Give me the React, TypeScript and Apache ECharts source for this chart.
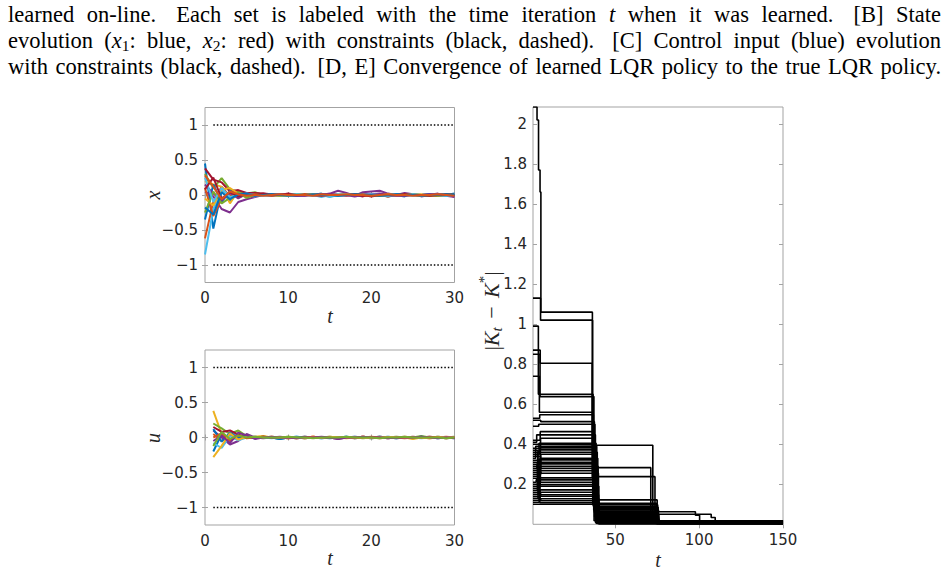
import React, { useEffect, useRef } from "react";
import * as echarts from "echarts";

// ---------- caption (justified, three lines) ----------
const captionLine1 = ["learned", "on-line.", "Each", "set", "is", "labeled", "with", "the", "time", "iteration", "{i|t}", "when", "it", "was", "learned.", "[B]", "State"];
const captionLine2 = ["evolution", "({i|x}{s|1}:", "blue,", "{i|x}{s|2}:", "red)", "with", "constraints", "(black,", "dashed).", "[C]", "Control", "input", "(blue)", "evolution"];
const captionLine3 = ["with", "constraints", "(black,", "dashed).", "[D,", "E]", "Convergence", "of", "learned", "LQR", "policy", "to", "the", "true", "LQR", "policy."];

// ---------- panel B: state trajectories, t = 0 .. 30 ----------
const xRun1 = [0.45, -0.48, 0.06, -0.08, 0.03, -0.02, 0.01, 0.0, -0.01, 0.01, 0.0, -0.01, 0.01, 0.0, 0.02, -0.01, 0.0, 0.01, -0.01, 0.02, 0.0, -0.01, 0.01, 0.0, -0.02, 0.01, 0.0, 0.01, -0.01, 0.0, 0.02];
const xRun2 = [-0.62, -0.1, 0.12, -0.02, 0.04, 0.0, -0.01, 0.01, 0.0, 0.0, 0.01, -0.01, 0.0, 0.01, 0.0, -0.01, 0.0, 0.0, 0.01, 0.0, -0.01, 0.0, 0.01, -0.01, 0.0, 0.01, 0.0, -0.01, 0.0, 0.01, 0.0];
const xRun3 = [0.2, 0.15, 0.12, -0.12, 0.06, -0.03, 0.02, 0.0, 0.01, -0.01, 0.0, 0.0, 0.01, 0.0, -0.01, 0.0, 0.01, 0.0, 0.0, -0.01, 0.0, 0.01, 0.0, -0.01, 0.0, 0.0, 0.01, 0.0, -0.01, 0.0, 0.0];
const xRun4 = [0.05, -0.02, -0.2, -0.25, -0.1, -0.06, -0.03, 0.0, -0.01, 0.0, 0.01, 0.0, -0.01, 0.01, 0.0, 0.02, 0.06, 0.03, -0.01, 0.04, 0.05, 0.06, 0.02, 0.0, 0.03, 0.01, -0.02, 0.0, 0.02, -0.01, -0.03];
const xRun5 = [0.3, 0.1, 0.24, 0.08, 0.05, 0.02, 0.04, 0.0, 0.01, 0.0, -0.01, 0.0, 0.0, 0.01, 0.0, -0.02, 0.0, 0.01, 0.0, -0.01, 0.0, 0.0, -0.02, 0.0, 0.01, 0.0, 0.0, -0.01, 0.0, 0.01, 0.0];
const xRun6 = [-0.85, -0.2, 0.05, -0.05, 0.02, 0.0, -0.02, 0.01, 0.0, 0.0, -0.01, 0.01, 0.0, 0.0, -0.03, 0.0, 0.01, 0.0, 0.0, 0.01, -0.01, 0.0, 0.0, 0.01, 0.0, -0.01, 0.0, 0.0, 0.01, 0.0, -0.01];
const xRun7 = [0.38, 0.22, 0.18, 0.05, 0.07, 0.03, 0.03, 0.02, 0.01, 0.0, 0.02, 0.0, 0.01, -0.01, 0.0, 0.01, 0.0, -0.01, 0.0, -0.02, 0.01, 0.0, -0.02, 0.0, 0.01, 0.0, -0.01, 0.0, 0.0, 0.01, 0.0];
const xRun8 = [-0.35, 0.15, -0.1, 0.06, -0.02, 0.01, 0.0, 0.0, 0.01, 0.0, 0.0, -0.01, 0.0, 0.0, 0.01, 0.0, -0.01, 0.0, 0.01, 0.0, 0.0, 0.0, -0.01, 0.01, 0.0, 0.0, 0.0, 0.01, 0.0, -0.01, 0.0];
const xRun9 = [0.1, -0.3, -0.05, 0.02, -0.03, 0.0, 0.01, 0.0, -0.01, 0.0, 0.0, 0.0, 0.01, 0.0, 0.0, -0.01, 0.0, 0.0, 0.0, 0.01, 0.0, -0.01, 0.0, 0.0, 0.01, 0.0, 0.0, 0.0, -0.01, 0.0, 0.0];
const xRun10 = [-0.05, -0.15, 0.08, 0.1, 0.02, -0.02, 0.0, 0.01, 0.0, 0.0, -0.01, 0.0, 0.0, 0.01, -0.01, 0.0, 0.0, 0.01, 0.0, 0.0, -0.01, 0.0, 0.01, 0.0, 0.0, 0.0, -0.01, 0.0, 0.01, 0.0, 0.0];
const xRun11 = [0.15, 0.02, -0.08, 0.03, -0.05, 0.02, -0.01, 0.0, 0.0, 0.01, 0.0, -0.01, -0.01, 0.0, 0.01, 0.01, 0.0, 0.0, -0.02, 0.0, 0.01, 0.02, 0.0, -0.01, -0.01, 0.0, 0.0, 0.01, 0.01, 0.0, -0.02];
const xRun12 = [-0.25, 0.05, -0.12, -0.04, 0.03, -0.04, 0.0, 0.01, 0.0, -0.01, 0.0, 0.01, 0.0, 0.0, 0.0, -0.01, 0.0, 0.0, 0.01, 0.0, 0.0, -0.01, 0.0, 0.0, 0.0, 0.01, 0.0, 0.0, -0.01, 0.0, 0.0];
const xRun13 = [0.25, -0.1, 0.1, -0.03, 0.0, 0.02, 0.0, -0.01, 0.0, 0.0, 0.0, 0.01, 0.0, -0.01, 0.0, -0.03, 0.0, 0.01, 0.0, 0.0, 0.01, 0.0, -0.01, 0.0, 0.0, 0.01, 0.0, 0.0, 0.0, -0.01, 0.0];
const xRun14 = [0.08, 0.25, -0.05, 0.04, -0.02, 0.01, 0.0, 0.02, 0.0, 0.0, 0.01, 0.0, 0.0, 0.0, -0.01, 0.0, 0.0, 0.0, 0.01, 0.0, -0.02, 0.0, 0.0, 0.0, 0.01, 0.0, 0.0, -0.01, 0.0, 0.0, 0.0];
const xRun15 = [-0.18, -0.28, 0.04, -0.06, 0.01, 0.02, -0.01, 0.0, 0.01, 0.0, -0.01, 0.0, 0.0, 0.01, 0.0, 0.0, -0.01, 0.0, 0.01, 0.0, 0.0, -0.01, 0.0, 0.01, 0.0, 0.0, -0.01, 0.0, 0.0, 0.01, 0.0];
const xRun16 = [0.28, 0.12, -0.06, 0.05, 0.01, -0.01, 0.0, -0.01, 0.0, 0.01, 0.0, 0.0, 0.0, -0.01, 0.01, 0.0, 0.0, 0.01, 0.0, 0.0, -0.01, 0.0, 0.01, 0.0, 0.0, -0.01, 0.0, 0.0, 0.01, 0.0, -0.01];

// ---------- panel C: control inputs, t = 1 .. 30 ----------
const uRun1 = [-0.2, 0.05, -0.03, 0.01, 0.0, -0.01, 0.0, 0.0, -0.02, 0.0, 0.0, 0.01, 0.0, -0.01, 0.0, 0.0, 0.01, 0.0, 0.0, -0.01, 0.0, 0.01, 0.0, 0.0, -0.01, 0.0, 0.0, 0.01, 0.0, -0.01];
const uRun2 = [0.05, -0.05, 0.04, -0.02, 0.0, 0.01, 0.0, 0.01, 0.0, 0.0, -0.01, 0.0, 0.01, 0.0, 0.0, -0.01, 0.0, 0.0, 0.01, 0.0, -0.01, 0.0, 0.0, 0.01, 0.0, 0.0, -0.01, 0.0, 0.01, 0.0];
const uRun3 = [0.38, 0.05, -0.03, 0.02, 0.0, 0.01, 0.02, 0.0, 0.0, -0.01, 0.0, 0.0, 0.01, 0.0, 0.0, 0.0, -0.01, 0.0, 0.01, 0.0, 0.0, 0.0, 0.0, 0.0, -0.02, 0.0, 0.0, 0.01, 0.0, 0.0];
const uRun4 = [0.1, 0.0, -0.1, -0.05, 0.05, 0.0, -0.01, 0.0, 0.01, 0.0, 0.0, -0.01, 0.0, 0.0, 0.0, -0.02, 0.0, 0.01, 0.0, 0.0, 0.01, 0.0, -0.01, 0.0, 0.0, 0.0, 0.01, 0.0, 0.0, -0.01];
const uRun5 = [0.2, 0.13, 0.05, 0.1, 0.02, 0.0, 0.01, 0.0, 0.0, 0.01, 0.0, -0.01, 0.0, 0.0, 0.01, 0.0, 0.0, 0.0, -0.01, 0.0, 0.01, 0.0, 0.0, 0.0, 0.0, 0.02, 0.0, 0.0, -0.01, 0.0];
const uRun6 = [-0.08, -0.15, 0.02, -0.04, 0.0, 0.01, 0.0, -0.01, 0.0, 0.0, 0.01, 0.0, 0.0, -0.01, 0.0, 0.0, 0.0, 0.01, 0.0, -0.01, 0.0, 0.0, 0.01, 0.0, 0.0, -0.01, 0.0, 0.0, 0.0, 0.01];
const uRun7 = [0.15, 0.08, 0.1, 0.04, 0.01, 0.0, 0.01, 0.0, 0.0, -0.01, 0.0, 0.01, 0.0, 0.0, 0.0, -0.01, 0.0, 0.0, 0.01, 0.0, 0.0, -0.01, 0.0, 0.0, 0.01, 0.0, 0.0, 0.0, -0.01, 0.0];
const uRun8 = [0.12, -0.06, 0.07, 0.0, 0.02, -0.01, 0.0, 0.0, -0.02, 0.0, 0.01, 0.0, 0.0, 0.0, -0.01, 0.0, 0.01, -0.01, 0.0, 0.0, 0.01, 0.0, -0.01, 0.0, 0.0, 0.01, 0.0, -0.01, 0.0, 0.0];
const uRun9 = [0.0, 0.06, -0.05, 0.03, -0.01, 0.0, 0.01, 0.0, 0.0, 0.0, -0.01, 0.0, 0.01, 0.0, 0.0, 0.0, 0.0, -0.01, 0.0, 0.01, 0.0, 0.0, 0.0, -0.01, 0.0, 0.0, 0.01, 0.0, 0.0, 0.0];
const uRun10 = [-0.28, -0.12, 0.06, -0.03, 0.01, 0.0, 0.0, 0.01, 0.0, 0.0, 0.0, -0.01, 0.0, 0.0, 0.01, 0.0, 0.0, 0.0, 0.0, -0.01, 0.0, 0.0, 0.01, 0.0, 0.0, 0.0, -0.01, 0.0, 0.0, 0.01];
const uRun11 = [-0.05, 0.03, -0.08, 0.07, 0.03, -0.02, 0.0, 0.01, 0.0, 0.0, -0.01, 0.0, 0.0, 0.01, 0.0, -0.02, 0.0, 0.0, 0.01, 0.0, 0.0, -0.01, 0.0, 0.0, 0.0, 0.01, 0.0, -0.01, 0.0, 0.0];
const uRun12 = [-0.12, 0.08, -0.02, 0.03, 0.0, 0.01, 0.0, 0.0, 0.0, 0.01, 0.0, 0.0, -0.01, 0.0, 0.0, 0.0, 0.01, 0.0, 0.0, 0.0, -0.01, 0.0, 0.0, 0.01, 0.0, 0.0, 0.0, 0.0, -0.01, 0.0];

// constraint levels (dotted), drawn over t = 1 .. 30
const constraintSpan = [1, 30];
const constraintLevels = [1, -1];

// ---------- panels D/E: |K_t - K*| for each learned policy ----------
// first policy: initial descent before its first relearn
const kLead = [[1, 2.085], [3.4, 2.02], [4.3, 1.77], [5.2, 1.66]];
// level held from t = 1 (policy 0 uses kLead instead)
const kStart = [null, 1.13, 0.87, 0.99, 0.85, 0.74, 0.53, 0.52, 0.49, 0.42, 0.41, 0.38, 0.36, 0.4, 0.33, 0.3, 0.35, 0.27, 0.25, 0.31, 0.24, 0.2, 0.28, 0.18, 0.32, 0.15, 0.26, 0.12, 0.21, 0.34, 0.11, 0.19, 0.29, 0.14, 0.23, 0.16, 0.37, 0.13, 0.17, 0.1];
const kSwitchA = [5.7, 5.5, 5.3, 4.2, 5.2, 4.8, 5.0, 5.6, 4.4, 5.3, 3.2, 5.5, 4.6, 5.1, 2.6, 5.4, 4.9, 3.8, 5.6, 5.2, 4.5, 5.3, 3.4, 5.0, 5.5, 4.2, 5.7, 5.1, 2.9, 5.4, 4.7, 5.2, 3.6, 5.5, 4.8, 5.3, 4.0, 5.6, 5.1, 5.4];
const kLevelA = [1.06, 1.02, 0.805, 0.65, 0.638, 0.56, 0.547, 0.513, 0.5, 0.463, 0.447, 0.43, 0.405, 0.398, 0.39, 0.382, 0.372, 0.36, 0.35, 0.33, 0.322, 0.31, 0.302, 0.29, 0.28, 0.268, 0.255, 0.232, 0.222, 0.21, 0.198, 0.19, 0.172, 0.16, 0.148, 0.14, 0.128, 0.118, 0.108, 0.1];
const kSwitchB = [36.4, 36.5, 36.3, 36.8, 37.3, 36.6, 37.0, 37.6, 37.9, 37.2, 38.2, 37.5, 38.6, 38.0, 39.0, 38.4, 37.7, 39.3, 38.8, 39.6, 38.1, 39.1, 37.4, 39.8, 38.5, 39.4, 40.0, 38.9, 39.7, 38.3, 39.5, 40.2, 39.2, 38.7, 40.1, 39.9, 40.3, 39.0, 40.4, 40.0];
const kLevelB = [0.395, 0.283, 0.238, 0.122, 0.105, 0.098, 0.09, 0.085, 0.078, 0.072, 0.066, 0.06, 0.055, 0.05, 0.046, 0.042, 0.038, 0.034, 0.03, 0.027, 0.024, 0.021, 0.018, 0.016, 0.014, 0.012, 0.011, 0.01, 0.009, 0.008, 0.007, 0.007, 0.006, 0.006, 0.005, 0.005, 0.004, 0.004, 0.004, 0.003];
const kSwitchC = [72.4, 71.2, 73.7, 75.0, 74.6, 75.3, 74.2, 75.6, 74.9, 75.8, 73.9, 75.2, 74.4, 76.0, 75.5, 74.7, 75.9, 74.1, 75.4, 76.1, 74.8, 75.1, null, null, null, null, null, null, null, null, null, null, null, null, null, null, null, null, null, null];
const kLevelC = [0.063, 0.05, 0.016, 0.013, 0.011, 0.012, 0.009, 0.008, 0.01, 0.007, 0.009, 0.006, 0.008, 0.005, 0.007, 0.006, 0.005, 0.004, 0.005, 0.004, 0.003, 0.004, null, null, null, null, null, null, null, null, null, null, null, null, null, null, null, null, null, null];
const kSwitchD = [97.8, 107.2, 144.5, 147.0, 141.0];
const kLevelD = [0.045, 0.034, 0.004, 0.003, 0.004];
const kSwitchE = [100.3, 109.6];
const kLevelE = [0.012, 0.014];
const kHorizon = 150;

// ---------- tick values ----------
const smallXTicks = [0, 10, 20, 30];
const smallYTicks = [-1, -0.5, 0, 0.5, 1];
const gainXTicks = [50, 100, 150];
const gainYTicks = [0.2, 0.4, 0.6, 0.8, 1, 1.2, 1.4, 1.6, 1.8, 2];

const matlabColors = ["#0072BD", "#D95319", "#EDB120", "#7E2F8E", "#77AC30", "#4DBEEE", "#A2142F"];
const AXIS_GRAY = "#a3a3a3";
const TICK_TEXT = "#262626";
const SERIF = "Liberation Serif";

function tickFmt(v: number) {
  return String(Number(Number(v).toFixed(2))).replace("-", "\u2212");
}

function gainTrace(i: number): number[][] {
  const pts: number[][] = [];
  if (i === 0) kLead.forEach((p) => pts.push([p[0], p[1]]));
  else pts.push([1, kStart[i] as number]);
  const sw: (number | null | undefined)[][] = [kSwitchA, kSwitchB, kSwitchC, kSwitchD, kSwitchE];
  const lv: (number | null | undefined)[][] = [kLevelA, kLevelB, kLevelC, kLevelD, kLevelE];
  for (let s = 0; s < sw.length; s++) {
    const t = sw[s][i];
    const v = lv[s][i];
    if (t == null || v == null) continue;
    pts.push([t, v]);
  }
  pts.push([kHorizon, pts[pts.length - 1][1]]);
  return pts;
}

type Run = { text: string; kind: "r" | "i" | "s" };
function parseWord(w: string): Run[] {
  const runs: Run[] = [];
  const re = /\{([is])\|([^}]*)\}/g;
  let last = 0;
  let m: RegExpExecArray | null;
  while ((m = re.exec(w))) {
    if (m.index > last) runs.push({ text: w.slice(last, m.index), kind: "r" });
    runs.push({ text: m[2], kind: m[1] as "i" | "s" });
    last = re.lastIndex;
  }
  if (last < w.length) runs.push({ text: w.slice(last), kind: "r" });
  return runs;
}

function buildOption() {
  const ctx = document.createElement("canvas").getContext("2d")!;
  const CAP = 22.5;
  const SUB = 15.5;
  const runFont = (r: Run) => ({
    size: r.kind === "s" ? SUB : CAP,
    style: r.kind === "i" ? "italic" : "normal",
  });
  const measure = (text: string, size: number, style: string) => {
    ctx.font = `${style} ${size}px "${SERIF}"`;
    return ctx.measureText(text).width;
  };

  const graphics: any[] = [];
  const lines = [captionLine1, captionLine2, captionLine3];
  const lineY = [14, 40, 66];
  const LEFT = 8;
  const RIGHT = 941;
  lines.forEach((words, li) => {
    const parsed = words.map(parseWord);
    const widths = parsed.map((runs) =>
      runs.reduce((s, r) => {
        const f = runFont(r);
        return s + measure(r.text, f.size, f.style);
      }, 0)
    );
    const total = widths.reduce((a, b) => a + b, 0);
    const weights = words.slice(0, -1).map((w) => (/\.$/.test(w) ? 1.6 : 1));
    const wsum = weights.reduce((a, b) => a + b, 0);
    const unit = (RIGHT - LEFT - total) / wsum;
    let x = LEFT;
    parsed.forEach((runs, wi) => {
      let rx = x;
      runs.forEach((r) => {
        const f = runFont(r);
        graphics.push({
          type: "text",
          x: rx,
          y: lineY[li] + (r.kind === "s" ? 5 : 0),
          silent: true,
          style: {
            text: r.text,
            fontFamily: SERIF,
            fontSize: f.size,
            fontStyle: f.style,
            fill: "#000",
            textAlign: "left",
            textVerticalAlign: "middle",
          },
        });
        rx += measure(r.text, f.size, f.style);
      });
      x += widths[wi] + (wi < weights.length ? weights[wi] * unit : 0);
    });
  });

  const mathLabel = (text: string, x: number, y: number, rotate = false) => ({
    type: "text",
    x,
    y,
    rotation: rotate ? Math.PI / 2 : 0,
    silent: true,
    style: {
      text,
      fontFamily: SERIF,
      fontSize: 20,
      fontStyle: "italic",
      fill: "#262626",
      textAlign: "center",
      textVerticalAlign: "middle",
    },
  });
  graphics.push(mathLabel("t", 330, 316));
  graphics.push(mathLabel("t", 330, 558));
  graphics.push(mathLabel("t", 658, 560));
  graphics.push(mathLabel("x", 153, 195, true));
  graphics.push(mathLabel("u", 153, 438, true));

  // |K_t - K*| rotated label
  const kPieces = [
    { text: "|", size: 22, style: "normal", dy: 0 },
    { text: "K", size: 22, style: "italic", dy: 0 },
    { text: "t", size: 15, style: "italic", dy: 6 },
    { text: " \u2212 ", size: 22, style: "normal", dy: 0 },
    { text: "K", size: 22, style: "italic", dy: 0 },
    { text: "*", size: 15, style: "normal", dy: -7 },
    { text: "|", size: 22, style: "normal", dy: 0 },
  ];
  const kW = kPieces.map((p) => measure(p.text, p.size, p.style) + (p.text === " \u2212 " ? 6 : 0));
  const kTotal = kW.reduce((a, b) => a + b, 0);
  let kx = -kTotal / 2;
  const kChildren = kPieces.map((p, i) => {
    const el = {
      type: "text",
      x: kx + (p.text === " \u2212 " ? 3 : 0),
      y: p.dy,
      silent: true,
      style: {
        text: p.text,
        fontFamily: SERIF,
        fontSize: p.size,
        fontStyle: p.style,
        fill: "#262626",
        textAlign: "left",
        textVerticalAlign: "middle",
      },
    };
    kx += kW[i];
    return el;
  });
  graphics.push({ type: "group", x: 491, y: 311, rotation: Math.PI / 2, children: kChildren });

  const grids = [
    { left: 205, top: 107.5, width: 249.5, height: 175 },
    { left: 205, top: 350, width: 249.5, height: 175 },
    { left: 533, top: 107, width: 250, height: 417.3 },
  ].map((g) => ({ ...g, show: true, borderColor: AXIS_GRAY, borderWidth: 1, backgroundColor: "transparent" }));

  const axisPair = (
    kind: "x" | "y",
    gridIndex: number,
    min: number,
    max: number,
    ticks: number[],
    tickLen: number,
    margin: number
  ) => {
    const base = {
      type: "value",
      gridIndex,
      min,
      max,
      splitLine: { show: false },
      axisLine: { show: false },
    };
    const tick = { show: true, inside: true, length: tickLen, customValues: ticks, lineStyle: { color: AXIS_GRAY, width: 1 } };
    return [
      {
        ...base,
        position: kind === "x" ? "bottom" : "left",
        axisTick: tick,
        axisLabel: {
          show: true,
          customValues: ticks,
          formatter: tickFmt,
          color: TICK_TEXT,
          fontFamily: "DejaVu Sans",
          fontSize: 15,
          margin,
        },
      },
      { ...base, position: kind === "x" ? "top" : "right", axisTick: tick, axisLabel: { show: false } },
    ];
  };

  const xAxis = [
    ...axisPair("x", 0, 0, 30, smallXTicks, 3, 8),
    ...axisPair("x", 1, 0, 30, smallXTicks, 3, 8),
    ...axisPair("x", 2, 1, kHorizon, gainXTicks, 4, 8),
  ];
  const yAxis = [
    ...axisPair("y", 0, -1.25, 1.25, smallYTicks, 3, 7),
    ...axisPair("y", 1, -1.25, 1.25, smallYTicks, 3, 7),
    ...axisPair("y", 2, 0, 2.085, gainYTicks, 4, 6),
  ];

  const series: any[] = [];
  const xRuns = [xRun1, xRun2, xRun3, xRun4, xRun5, xRun6, xRun7, xRun8, xRun9, xRun10, xRun11, xRun12, xRun13, xRun14, xRun15, xRun16];
  xRuns.forEach((run, k) => {
    series.push({
      type: "line",
      xAxisIndex: 0,
      yAxisIndex: 0,
      data: run.map((v, t) => [t, v]),
      symbol: "none",
      silent: true,
      lineStyle: { width: 2, color: matlabColors[k % 7] },
      itemStyle: { color: matlabColors[k % 7] },
    });
  });
  const uRuns = [uRun1, uRun2, uRun3, uRun4, uRun5, uRun6, uRun7, uRun8, uRun9, uRun10, uRun11, uRun12];
  uRuns.forEach((run, k) => {
    series.push({
      type: "line",
      xAxisIndex: 2,
      yAxisIndex: 2,
      data: run.map((v, t) => [t + 1, v]),
      symbol: "none",
      silent: true,
      lineStyle: { width: 2, color: matlabColors[k % 7] },
      itemStyle: { color: matlabColors[k % 7] },
    });
  });
  [0, 2].forEach((axisIdx) => {
    constraintLevels.forEach((lvl) => {
      series.push({
        type: "line",
        xAxisIndex: axisIdx,
        yAxisIndex: axisIdx,
        data: constraintSpan.map((t) => [t, lvl]),
        symbol: "none",
        silent: true,
        lineStyle: { width: 1.5, color: "#000", type: [1.5, 2] },
      });
    });
  });
  kLevelA.forEach((_, i) => {
    series.push({
      type: "line",
      xAxisIndex: 4,
      yAxisIndex: 4,
      step: "end",
      data: gainTrace(i),
      symbol: "none",
      silent: true,
      lineStyle: { width: 1.6, color: "#000" },
      itemStyle: { color: "#000" },
    });
  });

  return {
    animation: false,
    backgroundColor: "#fff",
    grid: grids,
    xAxis,
    yAxis,
    series,
    graphic: { elements: graphics },
  };
}

export default function App() {
  const ref = useRef<HTMLDivElement>(null);
  useEffect(() => {
    const el = ref.current;
    if (!el) return;
    const chart = echarts.init(el, null, { renderer: "svg", width: 949, height: 572 });
    chart.setOption(buildOption() as any);
    return () => chart.dispose();
  }, []);
  return (
    <div
      ref={ref}
      style={{ position: "fixed", left: 0, top: 0, width: 949, height: 572, background: "#fff" }}
    />
  );
}
